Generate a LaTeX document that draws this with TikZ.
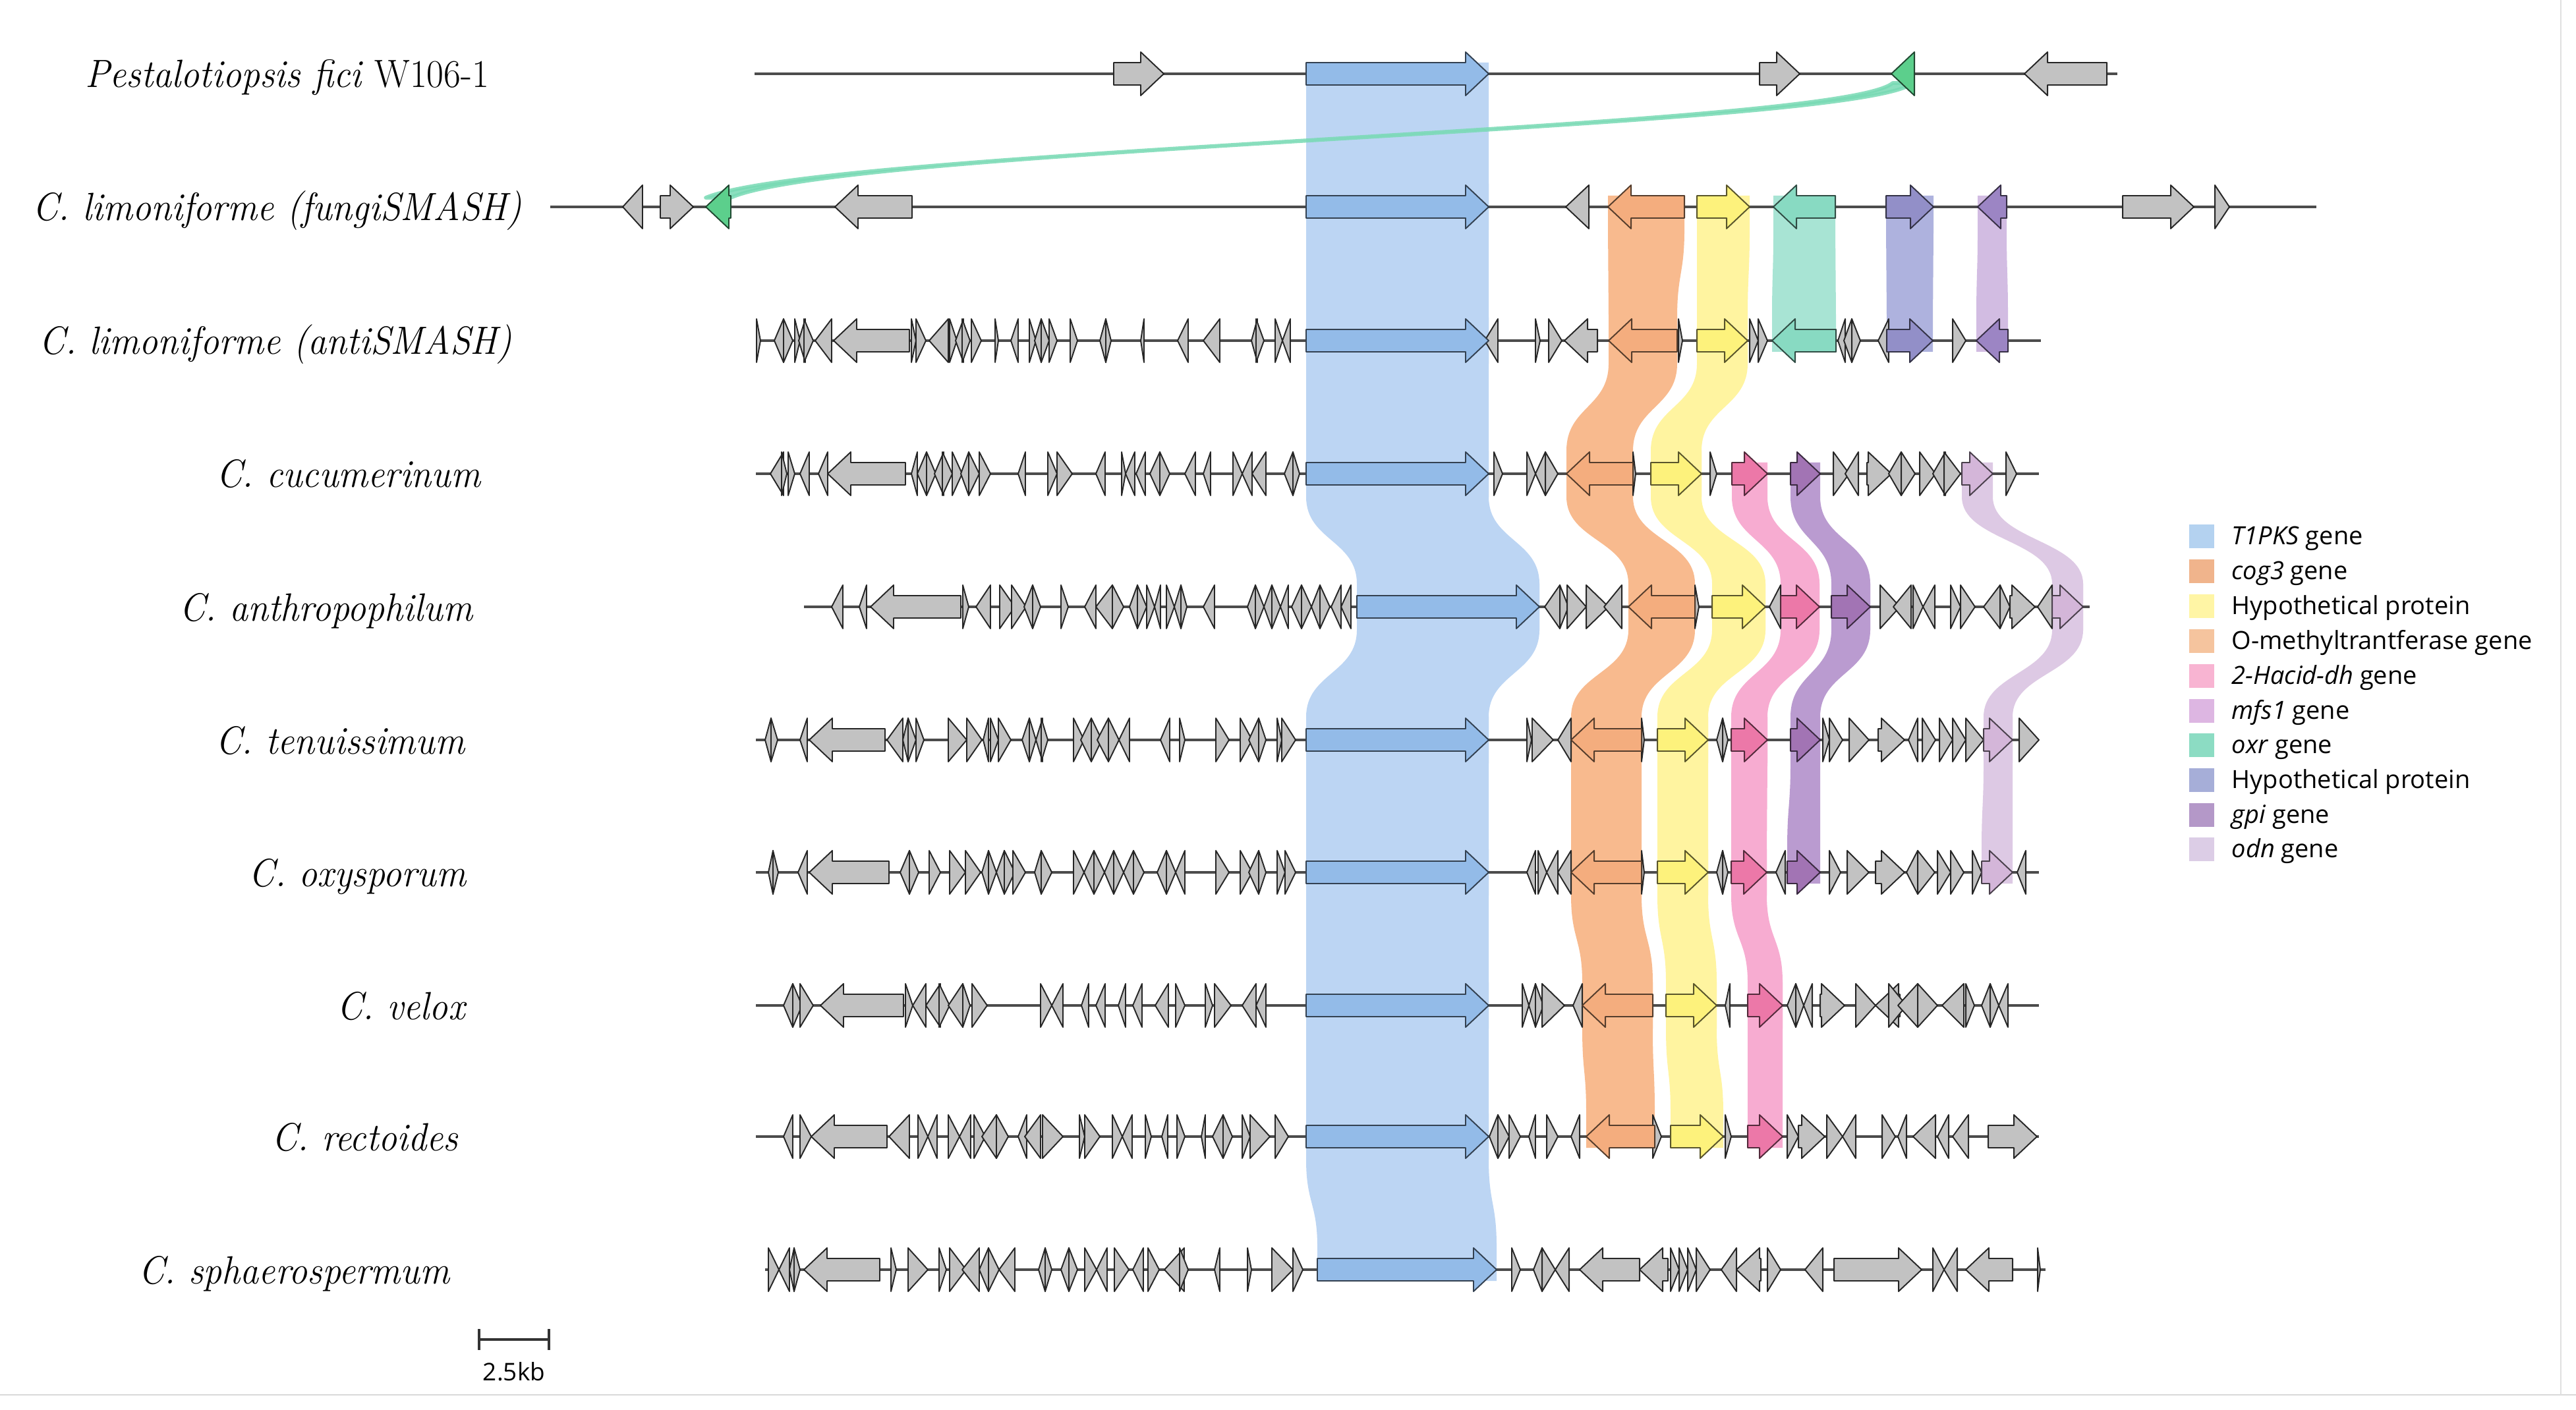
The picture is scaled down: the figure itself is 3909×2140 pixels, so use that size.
\documentclass[tikz,border=0pt]{standalone}
\usepackage{fontspec}
\newfontfamily\lgf{Open Sans}
\definecolor{ggray}{HTML}{C2C2C2}
\definecolor{bBlue}{HTML}{BCD5F3}
\definecolor{bOrange}{HTML}{F8BA8E}
\definecolor{bYellow}{HTML}{FFF4A0}
\definecolor{bTeal}{HTML}{A8E4D4}
\definecolor{bBP}{HTML}{AEB2DE}
\definecolor{bLav}{HTML}{D2BCE2}
\definecolor{bPink}{HTML}{F7ACD1}
\definecolor{bGpi}{HTML}{BA9BD0}
\definecolor{bLilac}{HTML}{DDC9E4}
\definecolor{fBlue}{HTML}{93BBE8}
\definecolor{fOrange}{HTML}{F4AD7E}
\definecolor{fYellow}{HTML}{FDF27C}
\definecolor{fTeal}{HTML}{88DAC2}
\definecolor{fBP}{HTML}{928FC8}
\definecolor{fPurple}{HTML}{9C85C4}
\definecolor{fPink}{HTML}{EC78A8}
\definecolor{fGpi}{HTML}{A274B4}
\definecolor{fLilac}{HTML}{D4B6D9}
\definecolor{fGreen}{HTML}{5CCF8C}
\definecolor{ribbon}{HTML}{78DAB4}
\definecolor{lT1}{HTML}{B4D2F0}
\definecolor{lCog}{HTML}{F0B48C}
\definecolor{lHyp}{HTML}{FFF5A5}
\definecolor{lOme}{HTML}{F5C49E}
\definecolor{lHac}{HTML}{F8B4D2}
\definecolor{lMfs}{HTML}{DDB6E2}
\definecolor{lOxr}{HTML}{8CDCC3}
\definecolor{lHyp2}{HTML}{A6AED8}
\definecolor{lGpi}{HTML}{B498C8}
\definecolor{lOdn}{HTML}{DCCDE6}
% gene arrow: x1, x2, y, direction (R/L), style
\newcommand\gn[5]{%
  \pgfmathsetmacro\gnh{min(35,#2-#1)}%
  \if#4R%
    \pgfmathsetmacro\gnb{#2-\gnh}%
    \filldraw[genebox,#5] (#1,#3-17) -- (\gnb,#3-17) -- (\gnb,#3-33) -- (#2,#3) -- (\gnb,#3+33) -- (\gnb,#3+17) -- (#1,#3+17) -- cycle;%
  \else%
    \pgfmathsetmacro\gnb{#1+\gnh}%
    \filldraw[genebox,#5] (#2,#3-17) -- (\gnb,#3-17) -- (\gnb,#3-33) -- (#1,#3) -- (\gnb,#3+33) -- (\gnb,#3+17) -- (#2,#3+17) -- cycle;%
  \fi}
\newcommand\grow[2]{\foreach \ga/\gb/\gd in {#2} {\gn{\ga}{\gb}{#1}{\gd}{ggene}}}
\newcommand\band[2]{\foreach \la/\ra/\ya/\lb/\rb/\yb/\ta/\tb in {#2} {%
  \fill[#1] (\la,\ya-\ta) -- (\la,\ya+35) .. controls (\la,\ya+101) and (\lb,\yb-101) .. (\lb,\yb-35) -- (\lb,\yb+\tb) -- (\rb,\yb+\tb) -- (\rb,\yb-35) .. controls (\rb,\yb-101) and (\ra,\ya+101) .. (\ra,\ya+35) -- (\ra,\ya-\ta) -- cycle;}}
\newcommand\lbl[1]{\scalebox{0.94}[1]{#1}}
\begin{document}
\begin{tikzpicture}[x=0.01cm,y=-0.01cm,
  genebox/.style={line width=0.55pt,draw=black!85,line join=round},
  ggene/.style={fill=ggray},
  tblue/.style={fill=fBlue,draw=fBlue!35!black},
  torange/.style={fill=fOrange,draw=fOrange!35!black},
  tyellow/.style={fill=fYellow,draw=fYellow!35!black},
  tteal/.style={fill=fTeal,draw=fTeal!35!black},
  tbp/.style={fill=fBP,draw=fBP!35!black},
  tpurple/.style={fill=fPurple,draw=fPurple!35!black},
  tpink/.style={fill=fPink,draw=fPink!35!black},
  tgpi/.style={fill=fGpi,draw=fGpi!35!black},
  tlilac/.style={fill=fLilac,draw=fLilac!35!black},
  tgreen/.style={fill=fGreen,draw=fGreen!35!black},
  track/.style={line width=1pt,draw=black!70},
  lab/.style={font=\fontsize{17}{20}\selectfont\itshape,inner sep=0pt,anchor=base east},
  leg/.style={font=\lgf\fontsize{10.8}{12}\selectfont,inner sep=0pt,anchor=base west},
  legsq/.style={minimum width=38*0.01cm,minimum height=36*0.01cm,inner sep=0pt}]
\useasboundingbox (0,0) rectangle (3909,2140);
\fill[white] (0,0) rectangle (3909,2140);
\draw[black!15,line width=0.6pt] (0,2117) -- (3909,2117);
\draw[black!12,line width=0.6pt] (3886,0) -- (3886,2117);
% ---------- bands ----------
\band{bBlue}{1982/2259/112/1982/2259/314/17/35, 1982/2259/314/1982/2259/517/35/35, 1982/2259/517/1982/2259/719/35/35, 1982/2259/719/2059/2336/921/35/35, 2059/2336/921/1982/2259/1123/35/35, 1982/2259/1123/1982/2259/1324/35/35, 1982/2259/1324/1982/2259/1526/35/35, 1982/2259/1526/1982/2259/1725/35/35, 1982/2259/1725/1999/2271/1927/35/17}
\band{bOrange}{2440/2556/314/2441/2545/517/17/35, 2441/2545/517/2377/2478/719/35/35, 2377/2478/719/2471/2572/921/35/35, 2471/2572/921/2384/2491/1123/35/35, 2384/2491/1123/2384/2491/1324/35/35, 2384/2491/1324/2401/2508/1526/35/35, 2401/2508/1526/2407/2511/1725/35/17}
\band{bYellow}{2575/2655/314/2575/2652/517/17/35, 2575/2652/517/2505/2582/719/35/35, 2505/2582/719/2598/2679/921/35/35, 2598/2679/921/2515/2592/1123/35/35, 2515/2592/1123/2515/2592/1324/35/35, 2515/2592/1324/2528/2605/1526/35/35, 2528/2605/1526/2535/2615/1725/35/17}
\band{bTeal}{2691/2785/314/2689/2786/517/17/17}
\band{bBP}{2862/2934/314/2863/2933/517/17/17}
\band{bLav}{3001/3045/314/2999/3047/517/17/17}
\band{bPink}{2628/2682/719/2702/2761/921/17/35, 2702/2761/921/2627/2682/1123/35/35, 2627/2682/1123/2627/2681/1324/35/35, 2627/2681/1324/2652/2705/1526/35/35, 2652/2705/1526/2652/2705/1725/35/17}
\band{bGpi}{2717/2762/719/2779/2838/921/17/35, 2779/2838/921/2717/2762/1123/35/35, 2717/2762/1123/2712/2762/1324/35/17}
\band{bLilac}{2977/3024/719/3114/3161/921/17/35, 3114/3161/921/3010/3054/1123/35/35, 3010/3054/1123/3007/3054/1324/35/17}
% green ribbon
\filldraw[ribbon,opacity=0.85,line width=1.6pt,line join=round] (2872,126) .. controls (2790,196) and (1250,226) .. (1071,300) -- (1109,300) .. controls (1288,222) and (2820,196) .. (2903,126) -- cycle;
% ---------- tracks ----------
\draw[track] (1145,112) -- (3213,112);
\draw[track] (835,314) -- (3515,314);
\draw[track] (1147,517) -- (3097,517);
\draw[track] (1147,719) -- (3094,719);
\draw[track] (1220,921) -- (3171,921);
\draw[track] (1147,1123) -- (3094,1123);
\draw[track] (1147,1324) -- (3094,1324);
\draw[track] (1147,1526) -- (3094,1526);
\draw[track] (1147,1725) -- (3094,1725);
\draw[track] (1161,1927) -- (3104,1927);
% ---------- row 1 ----------
\grow{112}{1690/1766/R, 2670/2731/R, 3072/3197/L}
\gn{1982}{2259}{112}{R}{tblue}
\gn{2870}{2905}{112}{L}{tgreen}
% ---------- row 2 ----------
\grow{314}{945/975/L, 1002/1052/R, 1267/1384/L, 2376/2411/L, 3221/3329/R, 3361/3383/R}
\gn{1071}{1109}{314}{L}{tgreen}
\gn{1982}{2259}{314}{R}{tblue}
\gn{2440}{2556}{314}{L}{torange}
\gn{2575}{2655}{314}{R}{tyellow}
\gn{2691}{2785}{314}{L}{tteal}
\gn{2862}{2934}{314}{R}{tbp}
\gn{3001}{3045}{314}{L}{tpurple}
% ---------- row 3 ----------
\grow{517}{1148/1154/R, 1175/1189/L, 1189/1203/R, 1206/1214/R, 1212/1222/L, 1220/1234/R, 1237/1262/L, 1265/1380/L, 1383/1390/R, 1390/1405/R, 1410/1439/L, 1441/1452/R, 1450/1462/L, 1460/1472/R, 1474/1489/R, 1510/1515/R, 1534/1545/L, 1562/1572/R, 1570/1580/L, 1580/1592/R, 1592/1604/R, 1624/1635/R, 1669/1678/L, 1678/1686/R, 1731/1736/L, 1787/1803/L, 1826/1851/L, 1899/1908/L, 1906/1918/R, 1935/1946/R, 1946/1958/L, 2253/2273/L, 2330/2337/R, 2350/2370/R, 2374/2424/L, 2547/2553/R, 2655/2668/R, 2668/2682/R, 2789/2800/L, 2798/2810/L, 2810/2823/R, 2850/2866/L, 2963/2983/R}
\gn{1982}{2259}{517}{R}{tblue}
\gn{2441}{2545}{517}{L}{torange}
\gn{2575}{2652}{517}{R}{tyellow}
\gn{2689}{2786}{517}{L}{tteal}
\gn{2863}{2933}{517}{R}{tbp}
\gn{2999}{3047}{517}{L}{tpurple}
% ---------- row 4 ----------
\grow{719}{1169/1189/L, 1186/1194/R, 1196/1206/R, 1214/1228/L, 1242/1256/L, 1256/1374/L, 1383/1392/L, 1392/1406/L, 1406/1420/R, 1418/1432/L, 1430/1445/R, 1445/1460/R, 1458/1470/L, 1470/1486/R, 1486/1503/R, 1545/1556/L, 1590/1604/R, 1604/1627/R, 1663/1677/L, 1702/1708/R, 1708/1722/L, 1724/1738/L, 1745/1760/L, 1760/1775/R, 1798/1814/L, 1826/1837/L, 1871/1885/R, 1885/1900/L, 1900/1921/L, 1949/1962/L, 1962/1972/R, 2267/2280/R, 2317/2330/R, 2330/2345/L, 2345/2364/R, 2478/2482/R, 2595/2605/R, 2782/2806/R, 2800/2820/L, 2833/2870/R, 2866/2885/L, 2885/2906/R, 2913/2937/R, 2933/2952/L, 2950/2975/R, 3044/3060/R}
\gn{1982}{2259}{719}{R}{tblue}
\gn{2377}{2478}{719}{L}{torange}
\gn{2505}{2582}{719}{R}{tyellow}
\gn{2628}{2682}{719}{R}{tpink}
\gn{2717}{2762}{719}{R}{tgpi}
\gn{2977}{3024}{719}{R}{tlilac}
% ---------- row 5 ----------
\grow{921}{1262/1279/L, 1304/1315/L, 1321/1458/L, 1461/1470/R, 1481/1503/L, 1517/1540/R, 1535/1557/R, 1554/1567/L, 1567/1579/R, 1610/1621/R, 1646/1663/L, 1663/1688/L, 1688/1705/R, 1714/1726/L, 1726/1740/R, 1740/1752/R, 1752/1761/L, 1770/1782/R, 1782/1792/L, 1792/1801/R, 1826/1843/L, 1893/1905/L, 1905/1918/R, 1918/1930/L, 1930/1943/R, 1943/1955/L, 1960/1975/L, 1975/1990/R, 1990/2003/L, 2003/2018/R, 2020/2035/L, 2035/2050/L, 2344/2367/L, 2367/2380/R, 2378/2407/R, 2407/2441/R, 2434/2461/L, 2572/2578/R, 2685/2702/L, 2853/2883/R, 2873/2900/L, 2903/2918/R, 2918/2936/L, 2960/2975/R, 2975/2997/R, 3010/3035/L, 3035/3050/R, 3050/3088/R, 3092/3114/L}
\gn{2059}{2336}{921}{R}{tblue}
\gn{2471}{2572}{921}{L}{torange}
\gn{2598}{2679}{921}{R}{tyellow}
\gn{2702}{2761}{921}{R}{tpink}
\gn{2779}{2838}{921}{R}{tgpi}
\gn{3114}{3161}{921}{R}{tlilac}
% ---------- row 6 ----------
\grow{1123}{1161/1170/L, 1170/1180/R, 1214/1225/L, 1228/1343/L, 1346/1370/L, 1370/1378/L, 1378/1390/R, 1390/1402/R, 1439/1467/R, 1467/1490/R, 1492/1500/L, 1503/1515/R, 1515/1534/R, 1551/1562/L, 1562/1572/R, 1572/1582/L, 1580/1590/R, 1629/1645/R, 1640/1656/L, 1656/1672/R, 1665/1682/L, 1682/1698/R, 1698/1714/L, 1761/1775/L, 1790/1798/R, 1845/1865/R, 1882/1900/R, 1895/1910/L, 1910/1921/R, 1938/1945/R, 1945/1966/R, 2317/2324/R, 2325/2357/R, 2364/2384/L, 2491/2495/R, 2605/2614/L, 2614/2622/R, 2766/2776/R, 2776/2796/R, 2806/2836/R, 2850/2890/R, 2896/2910/L, 2917/2937/R, 2943/2963/R, 2963/2983/R, 2983/3010/R, 3064/3094/R}
\gn{1982}{2259}{1123}{R}{tblue}
\gn{2384}{2491}{1123}{L}{torange}
\gn{2515}{2592}{1123}{R}{tyellow}
\gn{2627}{2682}{1123}{R}{tpink}
\gn{2717}{2762}{1123}{R}{tgpi}
\gn{3010}{3054}{1123}{R}{tlilac}
% ---------- row 7 ----------
\grow{1324}{1166/1173/L, 1173/1181/R, 1211/1225/L, 1228/1349/L, 1366/1380/L, 1380/1394/R, 1410/1427/R, 1441/1465/R, 1465/1488/R, 1490/1500/L, 1500/1512/R, 1512/1524/L, 1524/1540/R, 1537/1556/R, 1570/1580/L, 1580/1596/R, 1629/1645/R, 1645/1660/L, 1660/1676/R, 1676/1690/L, 1690/1705/R, 1705/1720/L, 1720/1736/R, 1756/1770/L, 1770/1784/R, 1784/1798/L, 1845/1865/R, 1882/1900/R, 1895/1910/L, 1910/1921/R, 1938/1950/R, 1950/1966/R, 2317/2330/L, 2334/2347/R, 2347/2364/L, 2364/2384/L, 2491/2495/R, 2605/2614/L, 2614/2622/R, 2695/2709/L, 2776/2793/R, 2803/2836/R, 2846/2890/R, 2893/2910/L, 2910/2936/R, 2940/2960/R, 2960/2980/R, 2993/3007/R, 3061/3074/L}
\gn{1982}{2259}{1324}{R}{tblue}
\gn{2384}{2491}{1324}{L}{torange}
\gn{2515}{2592}{1324}{R}{tyellow}
\gn{2627}{2681}{1324}{R}{tpink}
\gn{2712}{2762}{1324}{R}{tgpi}
\gn{3007}{3054}{1324}{R}{tlilac}
% ---------- row 8 ----------
\grow{1526}{1189/1203/L, 1203/1217/R, 1214/1234/R, 1245/1371/L, 1374/1385/R, 1385/1405/L, 1405/1427/L, 1425/1441/R, 1439/1461/L, 1461/1472/R, 1475/1498/R, 1579/1596/R, 1596/1613/L, 1641/1652/L, 1663/1677/L, 1697/1708/L, 1719/1733/L, 1753/1773/L, 1784/1798/R, 1829/1840/R, 1843/1868/R, 1885/1906/L, 1906/1921/L, 2310/2320/R, 2320/2330/L, 2330/2342/R, 2340/2374/R, 2387/2401/L, 2618/2625/L, 2712/2725/L, 2725/2737/R, 2737/2750/L, 2762/2799/R, 2816/2846/R, 2846/2883/L, 2866/2893/R, 2880/2910/L, 2910/2940/R, 2947/2980/L, 2983/2996/R, 3007/3020/L, 3020/3033/R, 3033/3047/L}
\gn{1982}{2259}{1526}{R}{tblue}
\gn{2401}{2508}{1526}{L}{torange}
\gn{2528}{2605}{1526}{R}{tyellow}
\gn{2652}{2705}{1526}{R}{tpink}
% ---------- row 9 ----------
\grow{1725}{1189/1203/L, 1214/1231/R, 1231/1346/L, 1349/1380/L, 1393/1408/R, 1408/1422/L, 1439/1456/R, 1456/1473/L, 1478/1495/R, 1490/1512/L, 1512/1530/R, 1545/1558/L, 1555/1579/L, 1582/1613/R, 1638/1646/R, 1646/1669/R, 1688/1703/R, 1703/1718/L, 1738/1747/R, 1763/1772/L, 1786/1798/R, 1823/1829/L, 1840/1856/L, 1856/1870/R, 1885/1897/R, 1897/1927/R, 1935/1955/R, 2260/2273/L, 2273/2290/R, 2290/2307/R, 2320/2330/L, 2347/2364/R, 2384/2397/L, 2508/2521/R, 2618/2627/R, 2712/2729/R, 2729/2769/R, 2772/2796/R, 2796/2816/L, 2856/2876/R, 2880/2893/L, 2903/2937/L, 2940/2957/L, 2963/2987/L, 3017/3091/R}
\gn{1982}{2259}{1725}{R}{tblue}
\gn{2407}{2511}{1725}{L}{torange}
\gn{2535}{2615}{1725}{R}{tyellow}
\gn{2652}{2705}{1725}{R}{tpink}
% ---------- row 10 ----------
\grow{1927}{1166/1182/R, 1182/1198/L, 1198/1205/L, 1205/1214/R, 1220/1335/L, 1352/1360/R, 1378/1408/R, 1425/1436/R, 1441/1466/R, 1460/1486/L, 1486/1500/L, 1500/1516/R, 1516/1540/L, 1576/1586/L, 1586/1596/R, 1610/1622/L, 1622/1635/R, 1646/1664/R, 1664/1680/L, 1691/1713/R, 1719/1735/L, 1742/1759/R, 1767/1797/L, 1790/1803/R, 1843/1851/L, 1893/1899/R, 1930/1962/R, 1962/1977/R, 2294/2307/R, 2327/2340/L, 2340/2360/R, 2360/2381/L, 2397/2488/L, 2488/2531/L, 2535/2548/R, 2548/2561/R, 2561/2574/R, 2574/2595/R, 2612/2635/L, 2635/2672/L, 2682/2702/R, 2739/2766/L, 2783/2916/R, 2933/2950/R, 2950/2970/L, 2983/3054/L, 3092/3096/R}
\gn{1999}{2271}{1927}{R}{tblue}
% ---------- labels ----------
\node[lab] (n1) at (743,133) {\lbl{Pestalotiopsis fici \upshape W106-1}};
\node[lab] (n2) at (793,335) {\lbl{C. limoniforme (fungiSMASH)}};
\node[lab] (n3) at (778,538) {\lbl{C. limoniforme (antiSMASH)}};
\node[lab] (n4) at (730,740) {\lbl{C. cucumerinum}};
\node[lab] (n5) at (718,942) {\lbl{C. anthropophilum}};
\node[lab] (n6) at (706,1144) {\lbl{C. tenuissimum}};
\node[lab] (n7) at (708,1345) {\lbl{C. oxysporum}};
\node[lab] (n8) at (706,1547) {\lbl{C. velox}};
\node[lab] (n9) at (696,1746) {\lbl{C. rectoides}};
\node[lab] (n10) at (683,1948) {\lbl{C. sphaerospermum}};
% ---------- legend ----------
\node[legsq,fill=lT1] (s1) at (3341,814) {};
\node[legsq,fill=lCog] (s2) at (3341,867) {};
\node[legsq,fill=lHyp] (s3) at (3341,920) {};
\node[legsq,fill=lOme] (s4) at (3341,973) {};
\node[legsq,fill=lHac] (s5) at (3341,1026) {};
\node[legsq,fill=lMfs] (s6) at (3341,1079) {};
\node[legsq,fill=lOxr] (s7) at (3341,1131) {};
\node[legsq,fill=lHyp2] (s8) at (3341,1184) {};
\node[legsq,fill=lGpi] (s9) at (3341,1237) {};
\node[legsq,fill=lOdn] (s10) at (3341,1289) {};
\node[leg] (t1) at (3386,826) {\textit{T1PKS} gene};
\node[leg] (t2) at (3386,879) {\textit{cog3} gene};
\node[leg] (t3) at (3386,932) {Hypothetical protein};
\node[leg] (t4) at (3386,985) {O-methyltrantferase gene};
\node[leg] (t5) at (3386,1038) {\textit{2-Hacid-dh} gene};
\node[leg] (t6) at (3386,1091) {\textit{mfs1} gene};
\node[leg] (t7) at (3386,1143) {\textit{oxr} gene};
\node[leg] (t8) at (3386,1196) {Hypothetical protein};
\node[leg] (t9) at (3386,1249) {\textit{gpi} gene};
\node[leg] (t10) at (3386,1301) {\textit{odn} gene};
% ---------- scale bar ----------
\coordinate (sb1) at (727,2033);
\coordinate (sb2) at (833,2033);
\draw[line width=0.9pt,black!80] (sb1) -- (sb2);
\draw[line width=0.9pt,black!80] ([yshift=0.16cm]sb1) -- ([yshift=-0.16cm]sb1);
\draw[line width=0.9pt,black!80] ([yshift=0.16cm]sb2) -- ([yshift=-0.16cm]sb2);
\node[font=\lgf\fontsize{10.5}{12}\selectfont,inner sep=0pt] (sbl) at (780,2082) {2.5kb};
\end{tikzpicture}
\end{document}
